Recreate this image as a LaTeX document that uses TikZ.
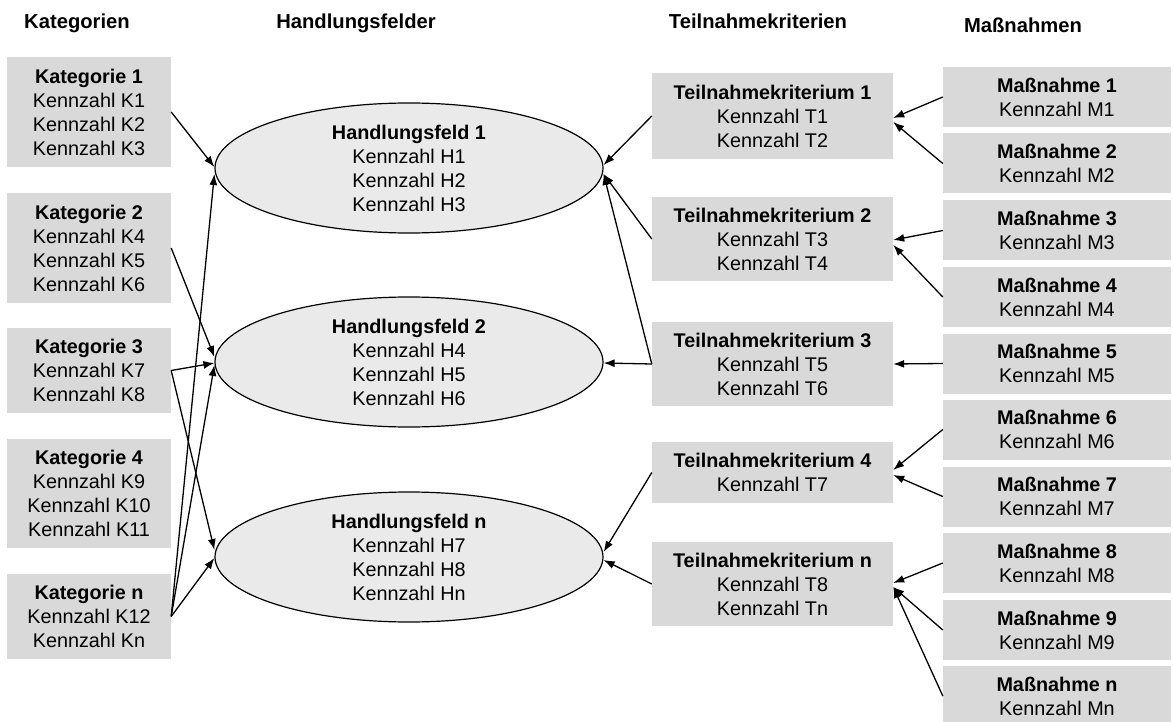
\documentclass[tikz,border=0pt]{standalone}
\usepackage{fontspec}
\setmainfont{Liberation Sans}
\usetikzlibrary{arrows.meta,shapes.geometric}
\definecolor{boxgray}{HTML}{D9D9D9}
\definecolor{ovalgray}{HTML}{EAEAEA}

\begin{document}
\begin{tikzpicture}[x=1pt,y=-1pt,
  every node/.style={font=\fontsize{19.8}{24}\selectfont},
  header/.style={font=\fontsize{20.2}{24}\selectfont\bfseries, anchor=base},
  card/.style={fill=boxgray, align=center, inner sep=0pt, minimum height=#1},
  kbox/.style={card=#1, minimum width=164pt},
  tbox/.style={card=#1, minimum width=241pt},
  mbox/.style={card=60pt, minimum width=228pt},
  oval/.style={ellipse, draw, fill=ovalgray, line width=1.2pt,
    minimum width=388pt, minimum height=130pt, inner sep=0pt},
  ovaltext/.style={align=center, inner sep=0pt},
  conn/.style={-{Latex[length=11pt,width=8pt]}, line width=1.3pt},
]
\useasboundingbox (0,0) rectangle (1173,722);

% column headers
\node[header] (hk) at (77,29) {Kategorien};
\node[header] (hh) at (356,29) {Handlungsfelder};
\node[header] (ht) at (758,29) {Teilnahmekriterien};
\node[header] (hm) at (1023,33) {Maßnahmen};

% Kategorien
\node[kbox=110pt] (k1) at (89,112) {\textbf{Kategorie 1}\\Kennzahl K1\\Kennzahl K2\\Kennzahl K3};
\node[kbox=110pt] (k2) at (89,248) {\textbf{Kategorie 2}\\Kennzahl K4\\Kennzahl K5\\Kennzahl K6};
\node[kbox=85pt]  (k3) at (89,370.5) {\textbf{Kategorie 3}\\Kennzahl K7\\Kennzahl K8};
\node[kbox=109pt] (k4) at (89,493.5) {\textbf{Kategorie 4}\\Kennzahl K9\\Kennzahl K10\\Kennzahl K11};
\node[kbox=85pt]  (kn) at (89,616.5) {\textbf{Kategorie n}\\Kennzahl K12\\Kennzahl Kn};

% Handlungsfelder
\node[oval] (h1) at (409,168) {};
\node[ovaltext] (h1t) at (h1.center) {\textbf{Handlungsfeld 1}\\Kennzahl H1\\Kennzahl H2\\Kennzahl H3};
\node[oval] (h2) at (409,362) {};
\node[ovaltext] (h2t) at (h2.center) {\textbf{Handlungsfeld 2}\\Kennzahl H4\\Kennzahl H5\\Kennzahl H6};
\node[oval] (hn) at (409,557) {};
\node[ovaltext] (hnt) at (hn.center) {\textbf{Handlungsfeld n}\\Kennzahl H7\\Kennzahl H8\\Kennzahl Hn};

% Teilnahmekriterien
\node[tbox=86pt] (t1) at (772.5,116) {\textbf{Teilnahmekriterium 1}\\Kennzahl T1\\Kennzahl T2};
\node[tbox=84pt] (t2) at (772.5,239) {\textbf{Teilnahmekriterium 2}\\Kennzahl T3\\Kennzahl T4};
\node[tbox=84pt] (t3) at (772.5,364) {\textbf{Teilnahmekriterium 3}\\Kennzahl T5\\Kennzahl T6};
\node[tbox=61pt] (t4) at (772.5,472.5) {\textbf{Teilnahmekriterium 4}\\Kennzahl T7};
\node[tbox=84pt] (tn) at (772.5,584) {\textbf{Teilnahmekriterium n}\\Kennzahl T8\\Kennzahl Tn};

% Maßnahmen
\node[mbox] (m1) at (1057,97)    {\textbf{Maßnahme 1}\\Kennzahl M1};
\node[mbox] (m2) at (1057,163.5) {\textbf{Maßnahme 2}\\Kennzahl M2};
\node[mbox] (m3) at (1057,230.5) {\textbf{Maßnahme 3}\\Kennzahl M3};
\node[mbox] (m4) at (1057,297)   {\textbf{Maßnahme 4}\\Kennzahl M4};
\node[mbox] (m5) at (1057,363.5) {\textbf{Maßnahme 5}\\Kennzahl M5};
\node[mbox] (m6) at (1057,429.5) {\textbf{Maßnahme 6}\\Kennzahl M6};
\node[mbox] (m7) at (1057,496.5) {\textbf{Maßnahme 7}\\Kennzahl M7};
\node[mbox] (m8) at (1057,563)   {\textbf{Maßnahme 8}\\Kennzahl M8};
\node[mbox] (m9) at (1057,630)   {\textbf{Maßnahme 9}\\Kennzahl M9};
\node[mbox] (mn) at (1057,696)   {\textbf{Maßnahme n}\\Kennzahl Mn};

% Kategorien -> Handlungsfelder
\draw[conn] (k1.east) -- ([yshift=1pt]h1.west);
\draw[conn] (kn.east) -- ([yshift=-6pt]h1.west);
\draw[conn] (k2.east) -- ([yshift=5pt]h2.west);
\draw[conn] (k3.east) -- ([yshift=-1pt]h2.west);
\draw[conn] (kn.east) -- ([yshift=-3pt]h2.west);
\draw[conn] (k3.east) -- ([yshift=7pt]hn.west);
\draw[conn] (kn.east) -- ([yshift=-1pt]hn.west);

% Teilnahmekriterien -> Handlungsfelder
\draw[conn] (t1.west) -- ([yshift=3pt]h1.east);
\draw[conn] (t2.west) -- ([yshift=-6pt]h1.east);
\draw[conn] (t3.west) -- ([yshift=-6pt]h1.east);
\draw[conn] (t3.west) -- ([yshift=-1pt]h2.east);
\draw[conn] (t4.west) -- ([yshift=5pt]hn.east);
\draw[conn] (tn.west) -- ([yshift=-3pt]hn.east);

% Maßnahmen -> Teilnahmekriterien
\draw[conn] (m1.west) -- ([yshift=-2pt]t1.east);
\draw[conn] (m2.west) -- ([yshift=-6pt]t1.east);
\draw[conn] (m3.west) -- ([yshift=-1pt]t2.east);
\draw[conn] (m4.west) -- ([yshift=-6pt]t2.east);
\draw[conn] (m5.west) -- (t3.east);
\draw[conn] (m6.west) -- ([yshift=2.5pt]t4.east);
\draw[conn] (m7.west) -- ([yshift=-2.5pt]t4.east);
\draw[conn] (m8.west) -- ([yshift=1pt]tn.east);
\draw[conn] (m9.west) -- ([yshift=-3pt]tn.east);
\draw[conn] (mn.west) -- ([yshift=-3pt]tn.east);
\end{tikzpicture}
\end{document}
